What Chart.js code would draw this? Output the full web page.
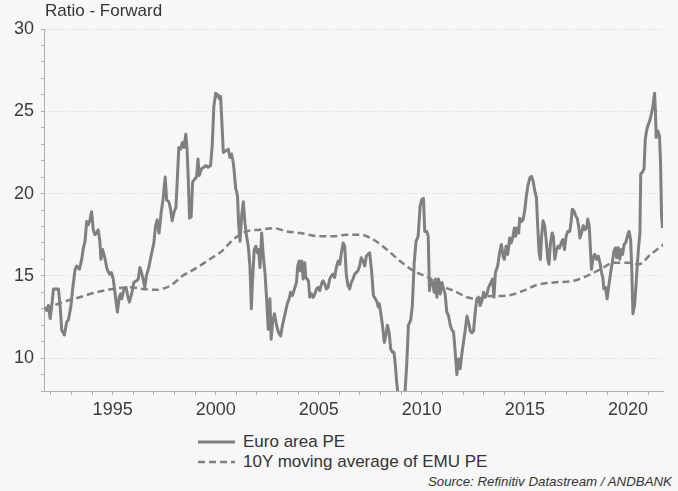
<!DOCTYPE html>
<html>
<head>
<meta charset="utf-8">
<script src="https://cdn.jsdelivr.net/npm/chart.js@4.4.0/dist/chart.umd.min.js"></script>
<style>
  body { margin: 0; background: #f7f7f7; font-family: "Liberation Sans", Arial, sans-serif; }
  #wrap { position: relative; width: 678px; height: 491px; }
  #peChart { position: absolute; left: 0; top: 0; }
  #title { position: absolute; left: 45px; top: 1px; font-size: 17px; color: #333; }
  #legend { position: absolute; left: 198px; top: 432px; font-size: 17px; color: #333; }
  #legend .row { display: flex; align-items: center; height: 20px; line-height: 20px; }
  #legend svg { margin-right: 8px; }
  #source { position: absolute; right: 6px; top: 474px; font-size: 13.3px; font-style: italic; color: #333; }
</style>
</head>
<body>
<div id="wrap">
  <canvas id="peChart" width="678" height="430"></canvas>
  <div id="title">Ratio - Forward</div>
  <div id="legend"></div>
  <div id="source">Source: Refinitiv Datastream / ANDBANK</div>
</div>
<script>
const peDates = [
  1991.72, 1991.80, 1991.88, 1991.97, 1992.05, 1992.13, 1992.26, 1992.37, 1992.45, 1992.53,
  1992.66, 1992.77, 1992.85, 1992.97, 1993.06, 1993.18, 1993.26, 1993.39, 1993.50, 1993.58,
  1993.66, 1993.74, 1993.82, 1993.90, 1993.98, 1994.06, 1994.14, 1994.22, 1994.30, 1994.38,
  1994.43, 1994.51, 1994.62, 1994.73, 1994.86, 1994.94, 1995.03, 1995.11, 1995.23, 1995.32,
  1995.39, 1995.44, 1995.55, 1995.65, 1995.73, 1995.81, 1995.92, 1996.03, 1996.16, 1996.24,
  1996.32, 1996.40, 1996.48, 1996.56, 1996.64, 1996.75, 1996.88, 1997.00, 1997.08, 1997.16,
  1997.25, 1997.35, 1997.45, 1997.55, 1997.62, 1997.73, 1997.81, 1997.89, 1997.97, 1998.07,
  1998.14, 1998.21, 1998.30, 1998.38, 1998.46, 1998.55, 1998.61, 1998.67, 1998.73, 1998.81,
  1998.88, 1998.99, 1999.07, 1999.14, 1999.20, 1999.31, 1999.42, 1999.52, 1999.63, 1999.75,
  1999.83, 1999.91, 2000.00, 2000.06, 2000.12, 2000.18, 2000.24, 2000.30, 2000.37, 2000.50,
  2000.61, 2000.69, 2000.77, 2000.85, 2000.90, 2000.97, 2001.02, 2001.06, 2001.11, 2001.18,
  2001.26, 2001.34, 2001.42, 2001.50, 2001.58, 2001.66, 2001.73, 2001.79, 2001.87, 2001.95,
  2002.02, 2002.08, 2002.15, 2002.23, 2002.31, 2002.39, 2002.47, 2002.55, 2002.63, 2002.69,
  2002.76, 2002.85, 2002.95, 2003.05, 2003.15, 2003.24, 2003.35, 2003.47, 2003.56, 2003.63,
  2003.72, 2003.82, 2003.92, 2003.98, 2004.05, 2004.11, 2004.18, 2004.24, 2004.32, 2004.37,
  2004.44, 2004.50, 2004.56, 2004.65, 2004.73, 2004.81, 2004.89, 2004.97, 2005.05, 2005.13,
  2005.21, 2005.29, 2005.37, 2005.45, 2005.53, 2005.61, 2005.69, 2005.77, 2005.85, 2005.94,
  2006.02, 2006.10, 2006.18, 2006.26, 2006.34, 2006.42, 2006.50, 2006.58, 2006.66, 2006.74,
  2006.82, 2006.90, 2006.98, 2007.06, 2007.15, 2007.23, 2007.31, 2007.39, 2007.47, 2007.57,
  2007.65, 2007.75, 2007.83, 2007.89, 2007.94, 2008.00, 2008.09, 2008.18, 2008.25, 2008.33,
  2008.41, 2008.49, 2008.58, 2008.65, 2008.72, 2008.78, 2008.90, 2009.05, 2009.19, 2009.27,
  2009.35, 2009.46, 2009.54, 2009.63, 2009.72, 2009.82, 2009.92, 2010.00, 2010.08, 2010.14,
  2010.24, 2010.31, 2010.37, 2010.44, 2010.52, 2010.60, 2010.66, 2010.73, 2010.81, 2010.89,
  2010.97, 2011.05, 2011.13, 2011.21, 2011.29, 2011.38, 2011.46, 2011.54, 2011.62, 2011.70,
  2011.78, 2011.86, 2011.94, 2012.02, 2012.11, 2012.19, 2012.27, 2012.35, 2012.43, 2012.51,
  2012.59, 2012.67, 2012.75, 2012.83, 2012.92, 2013.00, 2013.08, 2013.16, 2013.24, 2013.35,
  2013.43, 2013.50, 2013.57, 2013.68, 2013.77, 2013.86, 2013.94, 2014.00, 2014.09, 2014.17,
  2014.26, 2014.34, 2014.42, 2014.49, 2014.55, 2014.62, 2014.70, 2014.75, 2014.82, 2014.91,
  2015.00, 2015.07, 2015.15, 2015.24, 2015.32, 2015.40, 2015.48, 2015.56, 2015.62, 2015.69,
  2015.75, 2015.81, 2015.88, 2015.96, 2016.03, 2016.11, 2016.17, 2016.24, 2016.32, 2016.38,
  2016.45, 2016.52, 2016.60, 2016.68, 2016.76, 2016.84, 2016.92, 2017.00, 2017.08, 2017.18,
  2017.24, 2017.30, 2017.38, 2017.46, 2017.54, 2017.62, 2017.67, 2017.75, 2017.83, 2017.91,
  2017.99, 2018.05, 2018.12, 2018.18, 2018.23, 2018.31, 2018.39, 2018.48, 2018.56, 2018.64,
  2018.72, 2018.78, 2018.83, 2018.91, 2018.99, 2019.07, 2019.16, 2019.24, 2019.32, 2019.40,
  2019.45, 2019.53, 2019.60, 2019.68, 2019.74, 2019.81, 2019.89, 2019.97, 2020.05, 2020.13,
  2020.18, 2020.24, 2020.32, 2020.39, 2020.45, 2020.52, 2020.58, 2020.62, 2020.70, 2020.78,
  2020.84, 2020.90, 2020.96, 2021.05, 2021.13, 2021.21, 2021.29, 2021.33, 2021.37, 2021.45,
  2021.53, 2021.58, 2021.63, 2021.68
];
const peValues = [
  13.1, 12.9, 13.2, 12.4, 13.2, 14.2, 14.2, 14.2, 13.2, 11.7,
  11.4, 12.2, 12.3, 13.1, 14.2, 15.4, 15.6, 15.4, 16.0, 16.7,
  17.1, 18.3, 18.1, 18.4, 18.9, 17.8, 17.5, 17.6, 17.8, 17.1,
  16.0, 16.6, 16.1, 15.4, 15.1, 15.2, 14.8, 14.0, 12.8, 13.7,
  13.9, 13.6, 14.2, 14.3, 13.8, 13.4, 13.9, 14.6, 14.7, 14.8,
  15.5, 15.2, 14.8, 14.3, 15.0, 15.5, 16.3, 17.0, 18.0, 18.4,
  17.6, 18.8, 19.7, 21.0, 19.6, 19.5, 19.05, 18.35, 18.85, 19.15,
  20.9, 22.8, 22.7, 23.1, 22.8, 23.6, 22.7, 20.9, 18.5, 18.6,
  20.7, 20.9, 21.0, 22.1, 21.1, 21.5, 21.6, 21.7, 21.6, 21.7,
  22.9, 25.3, 26.1, 25.9, 26.0, 25.75, 25.9, 24.3, 22.5, 22.6,
  22.7, 22.2, 22.4, 21.9, 21.3, 20.3, 20.1, 19.8, 18.2, 17.1,
  18.65, 19.5, 18.2, 17.4, 16.8, 15.6, 13.0, 14.8, 16.6, 16.8,
  16.4, 16.6, 15.5, 17.6, 16.2, 15.2, 13.6, 11.75, 13.6, 11.15,
  12.2, 12.7, 12.0, 11.55, 11.35, 12.0, 12.6, 13.3, 13.6, 14.0,
  13.8, 14.2, 14.6, 15.6, 15.9, 15.3, 15.9, 14.8, 15.8, 14.9,
  14.8, 14.7, 13.7, 13.9, 13.7, 13.9, 14.2, 14.3, 14.1, 14.5,
  14.7, 14.5, 14.2, 14.3, 14.8, 15.0, 15.1, 14.9, 15.5, 15.9,
  15.7, 16.4, 17.0, 16.8, 15.0, 14.4, 14.2, 14.6, 14.8, 15.1,
  15.2, 15.3, 15.6, 16.1, 15.9, 15.6, 16.2, 16.3, 16.4, 15.2,
  13.8, 13.6, 13.4, 13.1, 13.3, 12.8, 12.0, 10.95, 11.35, 12.0,
  11.6, 10.55, 10.35, 10.35, 9.5, 8.5, 7.2, 7.3, 8.0, 9.7,
  12.0, 12.3, 13.2, 15.8, 17.1, 17.4, 19.25, 19.65, 19.7, 17.7,
  17.7, 17.4, 14.1, 14.8, 14.6, 14.0, 14.8, 13.7, 14.8, 13.9,
  14.6, 14.2, 13.9, 12.8, 12.6, 12.0, 11.7, 11.6, 10.35, 9.0,
  9.95, 9.35, 10.25, 10.95, 11.75, 12.55, 12.15, 11.65, 11.55, 11.65,
  12.8, 13.6, 13.7, 13.2, 13.5, 14.0, 13.7, 13.9, 14.3, 14.6,
  14.8, 13.7, 15.2, 15.6, 16.4, 16.9, 16.2, 16.0, 16.8, 16.3,
  17.3, 17.0, 17.4, 17.9, 17.4, 17.9, 17.6, 18.5, 18.3, 18.4,
  19.05, 19.85, 20.5, 20.95, 21.05, 20.75, 20.15, 19.75, 18.05, 16.4,
  16.0, 17.4, 18.35, 18.05, 17.2, 16.0, 15.7, 17.0, 17.6, 17.4,
  16.0, 16.5, 16.8, 16.7, 17.0, 17.2, 16.6, 17.4, 17.7, 17.7,
  18.3, 19.05, 18.95, 18.65, 18.5, 17.9, 17.3, 17.6, 18.05, 17.8,
  17.9, 18.45, 18.05, 16.6, 15.4, 16.1, 16.3, 16.0, 16.2, 15.8,
  15.2, 14.9, 14.2, 14.3, 13.6, 14.4, 15.2, 15.8, 16.5, 16.7,
  16.1, 16.7, 16.0, 16.6, 16.3, 16.9, 17.0, 17.4, 17.7, 17.2,
  15.6, 12.7, 13.2, 14.4, 15.6, 16.8, 17.6, 21.2, 21.3, 21.5,
  23.3, 23.8, 24.1, 24.4, 24.8, 25.3, 26.1, 25.1, 23.4, 23.8,
  23.5, 21.9, 18.6, 17.9
];

const avgDates = [
  1991.72, 1992.60, 1993.40, 1994.20, 1995.00, 1995.80, 1996.50, 1997.10, 1997.80, 1998.40,
  1999.10, 1999.70, 2000.30, 2000.85, 2001.50, 2002.15, 2002.80, 2003.44, 2004.08, 2005.05,
  2005.70, 2006.34, 2007.00, 2007.65, 2008.30, 2008.94, 2009.60, 2010.30, 2010.90, 2011.54,
  2012.19, 2012.67, 2013.16, 2014.13, 2014.94, 2015.59, 2016.40, 2017.37, 2018.02, 2018.67,
  2019.32, 2019.97, 2020.53, 2021.10, 2021.72
];
const avgValues = [
  13.0, 13.4, 13.7, 14.0, 14.2, 14.3, 14.2, 14.15, 14.4, 15.0,
  15.5, 16.0, 16.5, 17.2, 17.7, 17.8, 17.9, 17.7, 17.6, 17.4,
  17.4, 17.5, 17.5, 17.2, 16.6, 15.9, 15.3, 14.9, 14.4, 14.1,
  13.7, 13.6, 13.75, 13.8, 14.1, 14.45, 14.6, 14.7, 15.0, 15.4,
  15.8, 15.8, 15.7, 16.3, 16.9
];

const seriesNames = ["Euro area PE", "10Y moving average of EMU PE"];
const yLabelTicks = [10, 15, 20, 25, 30];
const xLabelYears = [1995, 2000, 2005, 2010, 2015, 2020];

const lineGrey = "#808080";
const textGrey = "#3c3c3c";
const axisGrey = "#b0b0b0";

function toPoints(xs, ys) {
  return xs.map((x, i) => ({ x: x, y: ys[i] }));
}

const ctx = document.getElementById("peChart").getContext("2d");

const chart = new Chart(ctx, {
  type: "line",
  data: {
    datasets: [
      {
        label: seriesNames[0],
        data: toPoints(peDates, peValues),
        borderColor: lineGrey,
        borderWidth: 3,
        pointRadius: 0,
        tension: 0,
        borderJoinStyle: "round"
      },
      {
        label: seriesNames[1],
        data: toPoints(avgDates, avgValues),
        borderColor: lineGrey,
        borderWidth: 2.5,
        borderDash: [7, 4],
        pointRadius: 0,
        cubicInterpolationMode: "monotone"
      }
    ]
  },
  options: {
    responsive: false,
    animation: false,
    layout: { padding: { left: 0, right: 15, top: 29, bottom: 0 } },
    plugins: {
      legend: { display: false },
      tooltip: { enabled: false }
    },
    scales: {
      x: {
        type: "linear",
        min: 1991.67,
        max: 2021.7,
        afterFit: (scale) => { scale.height = 39; },
        grid: {
          drawOnChartArea: false,
          tickLength: 4,
          tickColor: axisGrey
        },
        border: { color: axisGrey, width: 1 },
        ticks: {
          stepSize: 1,
          autoSkip: false,
          includeBounds: false,
          maxRotation: 0,
          padding: 4,
          color: textGrey,
          font: { family: "Liberation Sans", size: 18 },
          callback: (v) => xLabelYears.includes(v) ? String(v) : ""
        }
      },
      y: {
        min: 8,
        max: 30,
        afterFit: (scale) => { scale.width = 44; },
        grid: {
          color: (c) => (c.tick && yLabelTicks.includes(c.tick.value)) ? "#cfcfcf" : "rgba(0,0,0,0)",
          tickLength: 3,
          tickColor: axisGrey
        },
        border: { color: axisGrey, width: 1, dash: [1, 2] },
        ticks: {
          stepSize: 1,
          autoSkip: false,
          padding: 7,
          color: textGrey,
          font: { family: "Liberation Sans", size: 18 },
          callback: (v) => yLabelTicks.includes(v) ? String(v) : ""
        }
      }
    }
  }
});

// html legend built from the datasets
function renderLegend() {
  const legend = document.getElementById("legend");
  legend.innerHTML = "";
  chart.data.datasets.forEach((ds) => {
    const row = document.createElement("div");
    row.className = "row";
    const dash = ds.borderDash ? ds.borderDash.join(" ") : "";
    row.innerHTML =
      `<svg width="37" height="8"><line x1="0" y1="4" x2="37" y2="4" stroke="${ds.borderColor}" ` +
      `stroke-width="${ds.borderWidth}" stroke-dasharray="${dash}"/></svg>`;
    const span = document.createElement("span");
    span.textContent = ds.label;
    row.appendChild(span);
    legend.appendChild(row);
  });
}

renderLegend();
</script>
</body>
</html>
